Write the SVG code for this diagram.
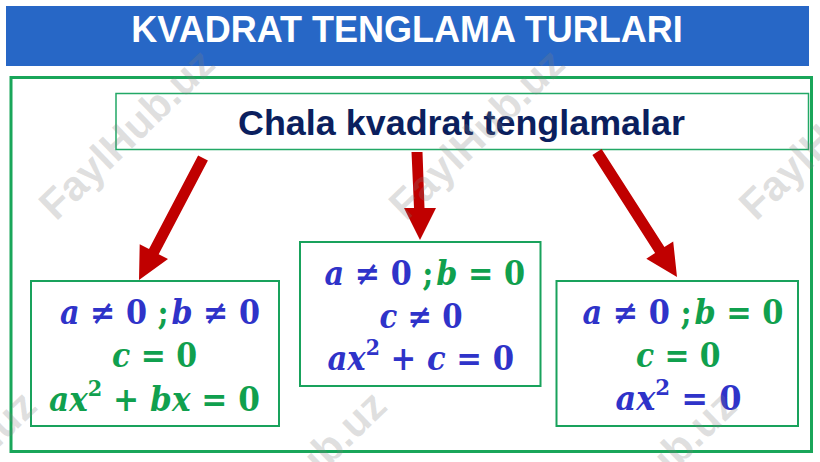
<svg xmlns="http://www.w3.org/2000/svg" width="820" height="462" viewBox="0 0 820 462">
<defs>
<style>
.title{font-family:"Liberation Sans",Arial,sans-serif;font-weight:bold;font-size:36px;fill:#ffffff}
.head{font-family:"Liberation Sans",Arial,sans-serif;font-weight:bold;font-size:35px;fill:#0b1f5e}
.box{fill:#ffffff;stroke:#19a25c;stroke-width:2}
.topbox{fill:#ffffff;stroke:#22a866;stroke-width:1.5}
.m{font-family:"DejaVu Serif","Liberation Serif",serif;font-weight:bold;font-size:33px}
.i{font-style:italic}
.sup{font-size:22px}
.b{fill:#2f33c9}
.g{fill:#10a04e}
.arrow{fill:#c00000}
.wm{font-family:"Liberation Sans",Arial,sans-serif;font-weight:bold;font-size:42px;fill:#808080;fill-opacity:0.25}
</style>
</defs>
<rect width="820" height="462" fill="#ffffff"/>

<g id="title">
<rect x="6" y="6" width="803" height="60" fill="#2767c6"/>
<text class="title" x="407" y="42" text-anchor="middle">KVADRAT TENGLAMA TURLARI</text>
</g>

<g id="frame">
<rect x="11" y="77.5" width="800.5" height="374" fill="none" stroke="#19a65a" stroke-width="3"/>
</g>

<g id="top">
<rect class="topbox" x="116" y="93.5" width="692.5" height="56"/>
<text class="head" x="238" y="135" textLength="447" lengthAdjust="spacingAndGlyphs">Chala kvadrat tenglamalar</text>
</g>

<g id="connectors">
<polygon class="arrow" points="207.9,160.6 158.7,254.2 168.0,259.1 139,280 139.7,244.2 149.0,249.1 198.1,155.5"/>
<polygon class="arrow" points="411.5,152 422.5,152 424.5,208 436,208 420,240 404,208 414,208"/>
<polygon class="arrow" points="601.6,149.0 664.4,247.1 673.2,241.4 677,277 646.3,258.7 655.1,253.0 592.4,155.0"/>
</g>

<g id="box-left">
<rect class="box" x="31" y="281" width="248" height="145"/>
<text class="m" x="60" y="323.5" textLength="200" lengthAdjust="spacingAndGlyphs"><tspan class="i b">a</tspan><tspan class="b"> ≠ 0 </tspan><tspan class="g">;</tspan><tspan class="i b" dx="3">b</tspan><tspan class="b"> ≠ 0</tspan></text>
<text class="m g" x="112" y="367" textLength="85" lengthAdjust="spacingAndGlyphs"><tspan class="i">c</tspan> = 0</text>
<text class="m g" x="49" y="410.5" textLength="211" lengthAdjust="spacingAndGlyphs"><tspan class="i">ax</tspan><tspan class="sup" dy="-15">2</tspan><tspan dy="15"> + </tspan><tspan class="i">bx</tspan> = 0</text>
</g>

<g id="box-middle">
<rect class="box" x="300" y="242" width="240.5" height="144"/>
<text class="m" x="324.5" y="284.5" textLength="200.5" lengthAdjust="spacingAndGlyphs"><tspan class="i b">a</tspan><tspan class="b"> ≠ 0 </tspan><tspan class="g">;</tspan><tspan class="i g" dx="3">b</tspan><tspan class="g"> = 0</tspan></text>
<text class="m b" x="379.5" y="328" textLength="83" lengthAdjust="spacingAndGlyphs"><tspan class="i">c</tspan> ≠ 0</text>
<text class="m b" x="327.5" y="370" textLength="186.5" lengthAdjust="spacingAndGlyphs"><tspan class="i">ax</tspan><tspan class="sup" dy="-15">2</tspan><tspan dy="15"> + </tspan><tspan class="i">c</tspan> = 0</text>
</g>

<g id="box-right">
<rect class="box" x="556.5" y="281" width="241.5" height="145"/>
<text class="m" x="582.5" y="323.5" textLength="201" lengthAdjust="spacingAndGlyphs"><tspan class="i b">a</tspan><tspan class="b"> ≠ 0 </tspan><tspan class="g">;</tspan><tspan class="i g" dx="3">b</tspan><tspan class="g"> = 0</tspan></text>
<text class="m g" x="636" y="367" textLength="84.5" lengthAdjust="spacingAndGlyphs"><tspan class="i">c</tspan> = 0</text>
<text class="m b" x="615.5" y="410" textLength="126" lengthAdjust="spacingAndGlyphs"><tspan class="i">ax</tspan><tspan class="sup" dy="-15">2</tspan><tspan dy="15"> = 0</tspan></text>
</g>

<g id="watermarks">
<text class="wm" transform="translate(56,222) rotate(-44)">FaylHub.uz</text>
<text class="wm" transform="translate(406,222) rotate(-44)">FaylHub.uz</text>
<text class="wm" transform="translate(756,222) rotate(-44)">FaylHub.uz</text>
<text class="wm" transform="translate(-122,564) rotate(-44)">FaylHub.uz</text>
<text class="wm" transform="translate(228,564) rotate(-44)">FaylHub.uz</text>
<text class="wm" transform="translate(578,564) rotate(-44)">FaylHub.uz</text>
</g>
</svg>
